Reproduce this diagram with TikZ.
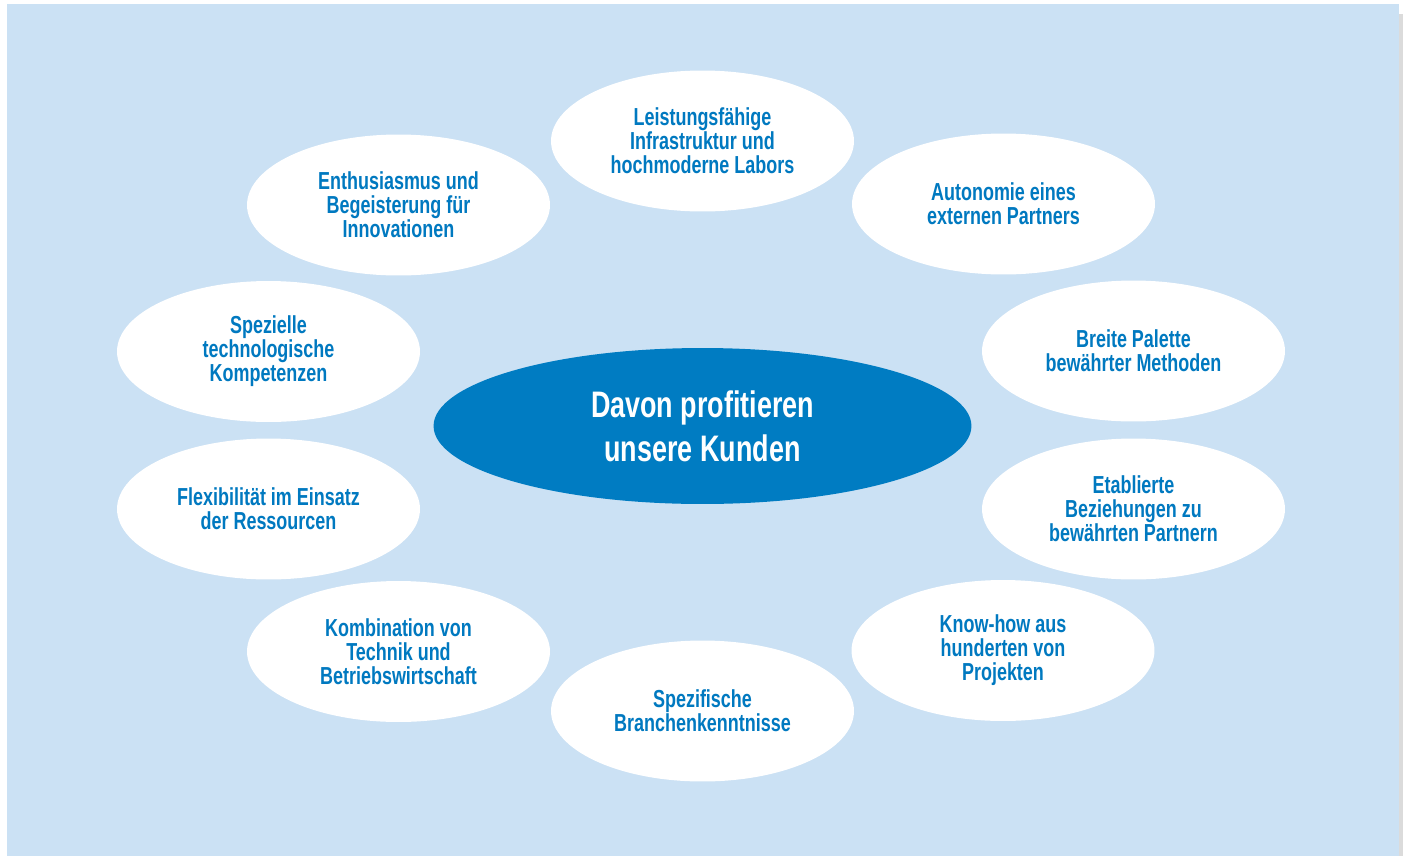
\documentclass[tikz,border=0pt]{standalone}
\usepackage{fontspec}
\setmainfont{Liberation Sans}[FakeStretch=0.73]
\usepackage{xcolor}
\usepackage{tikz}
\usetikzlibrary{shapes}

\definecolor{skyback}{RGB}{203,225,244}
\definecolor{coreblue}{RGB}{0,124,194}
\definecolor{textblue}{RGB}{0,121,192}

\begin{document}
\begin{tikzpicture}[x=0.02cm, y=-0.02cm,
        benefit/.style={ellipse, fill=white, inner sep=0pt, minimum width=6.06cm, minimum height=2.82cm,
            align=center, text=textblue, font=\bfseries\fontsize{14}{13.6}\selectfont},
        core/.style={ellipse, fill=coreblue, inner sep=0pt, minimum width=10.76cm, minimum height=3.12cm,
            align=center, text=white, font=\bfseries\fontsize{21}{24.9}\selectfont}]
        % frame and backdrop
        \useasboundingbox (0,0) rectangle (1403,856);
        \fill[white] (0,0) rectangle (1403,856);
        \fill[black!14] (1399,14) rectangle (1403,856);
        \fill[skyback] (7,4) rectangle (1399,856);
        % ring of benefits
        \node[benefit] (labs)    at (702.5,141)  {Leistungsfähige\\Infrastruktur und\\hochmoderne Labors};
        \node[benefit] (auto)    at (1003.5,204) {Autonomie eines\\externen Partners};
        \node[benefit] (methods) at (1133.5,351) {Breite Palette\\bewährter Methoden};
        \node[benefit] (partner) at (1133.5,509) {Etablierte\\Beziehungen zu\\bewährten Partnern};
        \node[benefit] (knowhow) at (1003,650.5)  {Know-how aus\\hunderten von\\Projekten};
        \node[benefit] (branch)  at (702.5,711)  {Spezifische\\Branchenkenntnisse};
        \node[benefit] (combi)   at (398.5,651.5) {Kombination von\\Technik und\\Betriebswirtschaft};
        \node[benefit] (flex)    at (268.5,509)  {Flexibilität im Einsatz\\der Ressourcen};
        \node[benefit] (tech)    at (268.5,351.5) {Spezielle\\technologische\\Kompetenzen};
        \node[benefit] (enth)    at (398.5,205)  {Enthusiasmus und\\Begeisterung für\\Innovationen};
        % centre
        \node[core] (kunden) at (702.5,426) {Davon profitieren\\unsere Kunden};
    \end{tikzpicture}
\end{document}
